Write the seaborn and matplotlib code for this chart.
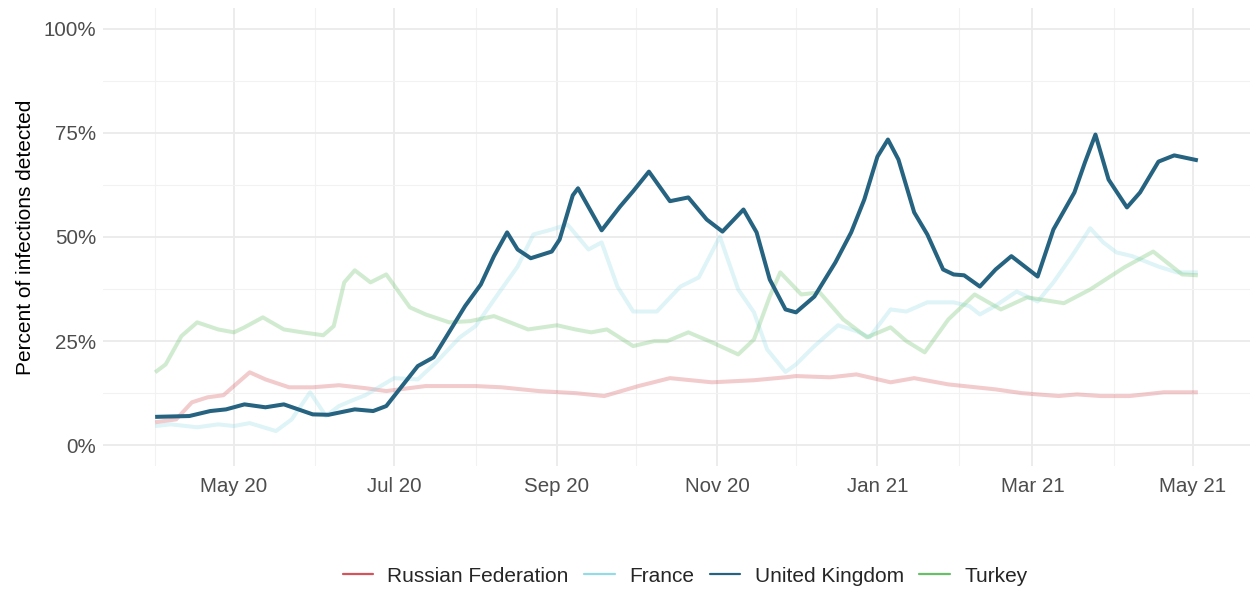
import pandas as pd
import numpy as np
import seaborn as sns
import matplotlib.pyplot as plt
import matplotlib.dates as mdates
from matplotlib.lines import Line2D
from matplotlib.ticker import FuncFormatter, MultipleLocator

# values (percent of infections detected)
russia_dates = ["2020-04-01", "2020-04-09", "2020-04-15", "2020-04-21", "2020-04-27", "2020-05-07",
                "2020-05-13", "2020-05-22", "2020-05-31", "2020-06-10", "2020-06-20", "2020-06-28",
                "2020-07-13", "2020-08-01", "2020-08-11", "2020-08-25", "2020-09-08", "2020-09-19",
                "2020-10-02", "2020-10-14", "2020-10-30", "2020-11-15", "2020-11-27", "2020-12-01",
                "2020-12-14", "2020-12-24", "2021-01-06", "2021-01-15", "2021-01-28", "2021-02-15",
                "2021-02-25", "2021-03-11", "2021-03-18", "2021-03-27", "2021-04-07", "2021-04-20",
                "2021-05-03"]
russia_vals = [5.5, 6.2, 10.3, 11.5, 12.0, 17.5, 15.8, 13.9, 13.9, 14.4, 13.7, 13.0,
               14.2, 14.2, 13.9, 13.0, 12.5, 11.8, 14.2, 16.1, 15.1, 15.6, 16.3, 16.6,
               16.3, 17.0, 15.1, 16.1, 14.6, 13.4, 12.5, 11.8, 12.2, 11.8, 11.8, 12.7, 12.7]

france_dates = ["2020-04-01", "2020-04-07", "2020-04-17", "2020-04-25", "2020-05-01", "2020-05-07",
                "2020-05-17", "2020-05-23", "2020-05-30", "2020-06-05", "2020-06-10", "2020-06-16",
                "2020-06-20", "2020-07-01", "2020-07-10", "2020-07-17", "2020-07-26", "2020-08-01",
                "2020-08-10", "2020-08-17", "2020-08-23", "2020-08-30", "2020-09-05", "2020-09-13",
                "2020-09-18", "2020-09-24", "2020-09-30", "2020-10-09", "2020-10-18", "2020-10-25",
                "2020-11-02", "2020-11-09", "2020-11-15", "2020-11-20", "2020-11-27", "2020-12-01",
                "2020-12-08", "2020-12-17", "2020-12-24", "2020-12-29", "2021-01-06", "2021-01-12",
                "2021-01-20", "2021-01-30", "2021-02-05", "2021-02-09", "2021-02-15", "2021-02-23",
                "2021-03-03", "2021-03-09", "2021-03-16", "2021-03-23", "2021-03-28", "2021-04-02",
                "2021-04-08", "2021-04-18", "2021-04-25", "2021-05-03"]
france_vals = [4.6, 5.0, 4.3, 5.0, 4.6, 5.3, 3.4, 6.2, 12.7, 7.0, 9.4, 11.0,
               12.0, 16.1, 15.8, 19.9, 25.9, 28.6, 36.7, 42.9, 50.6, 51.8, 53.0, 47.0,
               48.7, 38.1, 32.1, 32.1, 38.1, 40.3, 50.1, 37.4, 31.9, 23.0, 17.6, 19.4,
               23.8, 28.8, 27.4, 25.9, 32.6, 32.1, 34.3, 34.3, 33.4, 31.4, 33.5, 36.9,
               34.5, 39.1, 45.4, 52.1, 48.7, 46.3, 45.4, 42.9, 41.5, 41.5]

uk_dates = ["2020-04-01", "2020-04-14", "2020-04-22", "2020-04-28", "2020-05-05", "2020-05-13",
            "2020-05-20", "2020-05-31", "2020-06-06", "2020-06-16", "2020-06-23", "2020-06-28",
            "2020-07-03", "2020-07-10", "2020-07-16", "2020-07-21", "2020-07-28", "2020-08-03",
            "2020-08-08", "2020-08-13", "2020-08-17", "2020-08-22", "2020-08-30", "2020-09-02",
            "2020-09-07", "2020-09-09", "2020-09-18", "2020-09-25", "2020-09-30", "2020-10-06",
            "2020-10-14", "2020-10-21", "2020-10-28", "2020-11-03", "2020-11-11", "2020-11-16",
            "2020-11-21", "2020-11-27", "2020-12-01", "2020-12-08", "2020-12-16", "2020-12-22",
            "2020-12-27", "2021-01-01", "2021-01-05", "2021-01-09", "2021-01-15", "2021-01-20",
            "2021-01-26", "2021-01-30", "2021-02-03", "2021-02-09", "2021-02-15", "2021-02-21",
            "2021-03-03", "2021-03-09", "2021-03-17", "2021-03-21", "2021-03-25", "2021-03-30",
            "2021-04-06", "2021-04-11", "2021-04-18", "2021-04-24", "2021-05-03"]
uk_vals = [6.8, 7.0, 8.2, 8.6, 9.8, 9.1, 9.8, 7.4, 7.3, 8.6, 8.2, 9.4,
           13.4, 19.0, 21.1, 26.2, 33.4, 38.6, 45.4, 51.1, 47.0, 44.9, 46.5, 49.4,
           60.0, 61.7, 51.6, 57.3, 61.0, 65.7, 58.6, 59.5, 54.2, 51.3, 56.6, 51.1,
           39.8, 32.6, 31.9, 35.7, 43.9, 51.1, 59.0, 69.3, 73.4, 68.6, 55.9, 50.6,
           42.2, 41.0, 40.8, 38.1, 42.2, 45.4, 40.5, 51.8, 60.7, 67.9, 74.6, 63.8,
           57.1, 60.7, 68.1, 69.6, 68.4]

turkey_dates = ["2020-04-01", "2020-04-05", "2020-04-11", "2020-04-17", "2020-04-25", "2020-05-01",
                "2020-05-05", "2020-05-12", "2020-05-20", "2020-05-27", "2020-06-04", "2020-06-08",
                "2020-06-12", "2020-06-16", "2020-06-22", "2020-06-28", "2020-07-07", "2020-07-13",
                "2020-07-22", "2020-07-30", "2020-08-08", "2020-08-21", "2020-09-01", "2020-09-08",
                "2020-09-14", "2020-09-20", "2020-09-30", "2020-10-08", "2020-10-13", "2020-10-21",
                "2020-10-30", "2020-11-09", "2020-11-15", "2020-11-21", "2020-11-25", "2020-12-03",
                "2020-12-10", "2020-12-19", "2020-12-28", "2021-01-06", "2021-01-12", "2021-01-19",
                "2021-01-28", "2021-02-07", "2021-02-17", "2021-02-27", "2021-03-13", "2021-03-23",
                "2021-04-05", "2021-04-16", "2021-04-27", "2021-05-03"]
turkey_vals = [17.5, 19.4, 26.2, 29.5, 27.8, 27.1, 28.3, 30.7, 27.8, 27.1, 26.4, 28.6,
               39.1, 42.0, 39.1, 41.0, 33.1, 31.4, 29.5, 29.8, 31.0, 27.8, 28.8, 27.8,
               27.1, 27.8, 23.8, 25.0, 25.0, 27.1, 24.7, 21.8, 25.4, 35.7, 41.5, 36.2,
               36.7, 30.2, 25.9, 28.3, 25.0, 22.3, 30.2, 36.2, 32.6, 35.5, 34.1, 37.4,
               42.7, 46.5, 41.0, 40.8]

countries = ["Russian Federation", "France", "United Kingdom", "Turkey"]
colors = {"Russian Federation": "#d6535c", "France": "#94dbe6",
          "United Kingdom": "#256380", "Turkey": "#68bf68"}
alphas = {"Russian Federation": 0.3, "France": 0.3, "United Kingdom": 1.0, "Turkey": 0.3}

frames = []
for name, d, v in [("Russian Federation", russia_dates, russia_vals),
                   ("France", france_dates, france_vals),
                   ("Turkey", turkey_dates, turkey_vals),
                   ("United Kingdom", uk_dates, uk_vals)]:
    frames.append(pd.DataFrame({"date": pd.to_datetime(d), "pct": v, "country": name}))
df = pd.concat(frames, ignore_index=True)

sns.set_style("white")
plt.rcParams["font.family"] = ["Liberation Sans", "DejaVu Sans"]

fig = plt.figure(figsize=(12.5, 5.91), dpi=100)
ax = fig.add_axes([0.0824, 0.2115, 0.9176, 0.775])

for name in ["Russian Federation", "France", "Turkey", "United Kingdom"]:
    sub = df[df["country"] == name]
    sns.lineplot(data=sub, x="date", y="pct", ax=ax, color=colors[name],
                 alpha=alphas[name], lw=2.9, legend=False,
                 solid_joinstyle="round", solid_capstyle="butt")

start = pd.Timestamp("2020-04-01")
end = pd.Timestamp("2021-05-03")
pad = (end - start) * 0.05
ax.set_xlim(start - pad, end + pad)
ax.set_ylim(-5, 105)

ax.xaxis.set_major_locator(mdates.MonthLocator(bymonth=[1, 3, 5, 7, 9, 11]))
ax.xaxis.set_minor_locator(mdates.MonthLocator(bymonth=[2, 4, 6, 8, 10, 12]))
ax.xaxis.set_major_formatter(mdates.DateFormatter("%b %y"))
ax.yaxis.set_major_locator(MultipleLocator(25))
ax.yaxis.set_minor_locator(MultipleLocator(12.5))
ax.yaxis.set_major_formatter(FuncFormatter(lambda v, p: f"{v:.0f}%"))

ax.grid(which="major", color="#ebebeb", lw=1.3)
ax.grid(which="minor", color="#f2f2f2", lw=0.8)
ax.set_axisbelow(True)
for s in ax.spines.values():
    s.set_visible(False)
ax.tick_params(which="both", length=0)
ax.tick_params(axis="both", labelsize=14.8, colors="#4d4d4d")
ax.tick_params(axis="x", pad=8)
ax.tick_params(axis="y", pad=5)

ax.set_xlabel("")
ax.set_ylabel("Percent of infections detected", fontsize=15, color="black", labelpad=6)

handles = [Line2D([0], [0], color=colors[c], lw=1.6) for c in countries]
fig.legend(handles, countries, loc="center", bbox_to_anchor=(0.548, 0.025), ncol=4,
           frameon=False, fontsize=15, handlelength=1.45, columnspacing=0.75, handletextpad=0.7)

fig.savefig("out.png", dpi=100)
